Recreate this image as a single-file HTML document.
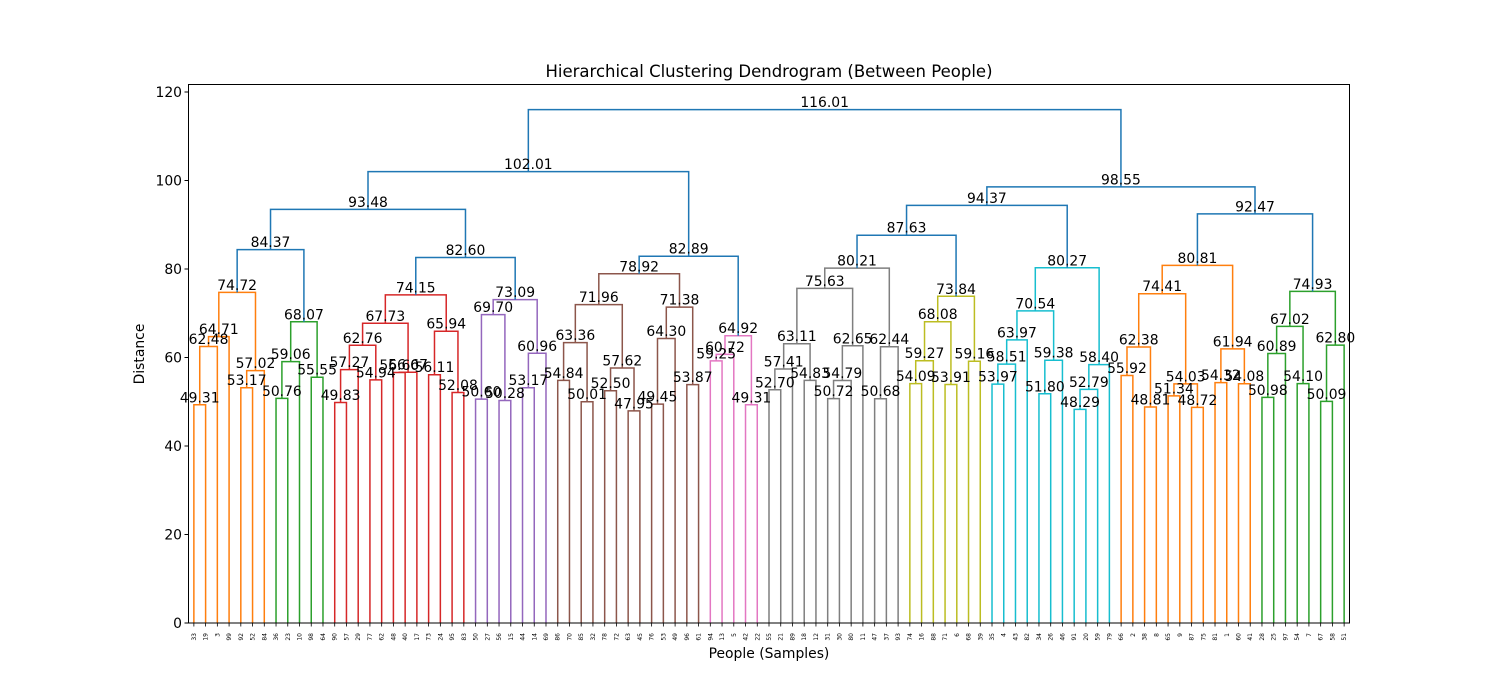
<!DOCTYPE html>
<html><head><meta charset="utf-8"><style>
html,body{margin:0;padding:0;background:#fff;}
svg{display:block;font-family:"DejaVu Sans","Liberation Sans",sans-serif;}
</style></head><body>
<svg id="chart" width="1500" height="700" viewBox="0 0 1500 700" xmlns="http://www.w3.org/2000/svg">
<rect width="1500" height="700" fill="#fff"/>
<text x="769" y="77" font-size="16.5" text-anchor="middle">Hierarchical Clustering Dendrogram (Between People)</text>
<text x="769" y="658" font-size="13.9" text-anchor="middle">People (Samples)</text>
<text x="0" y="0" font-size="13.9" text-anchor="middle" transform="translate(144,354) rotate(-90)">Distance</text>
<g id="plot"></g>
<rect x="188.5" y="84.5" width="1161" height="538.5" fill="none" stroke="#000" stroke-width="1"/>
</svg>
<script>
const leafLabels = ["33","19","3","99","92","52","84","36","23","10","98","64","90","57","29","77","62","48","40","17","73","24","95","83","50","27","56","15","44","14","69","86","70","85","32","78","72","63","45","76","53","49","96","61","94","13","5","42","22","55","21","89","18","12","31","30","80","11","47","37","93","74","16","88","71","6","68","39","35","4","43","82","34","26","46","91","20","59","79","66","2","38","8","65","9","87","75","81","1","60","41","28","25","97","54","7","67","58","51"];
const mergeLeft = ["L0","n0","n1","L4","n3","n2","L7","n6","L10","n7","n5","L12","n11","L15","n12","L17","n15","n14","L20","L22","n18","n17","L24","L26","n22","L28","n25","n24","n21","n10","L31","L33","n30","L35","L37","n33","n32","L39","n37","L42","n38","n36","L44","n42","L47","n43","n41","n29","L49","n48","L52","n49","L54","n52","n53","L58","n55","n51","n57","L61","n59","L64","n60","L66","n62","n58","L68","n66","n67","L72","n69","n68","L75","n72","n73","n71","n65","L79","L81","n77","L83","L85","n80","n79","L87","L89","n84","n83","L91","n88","L94","n89","L96","n92","n91","n87","n76","n47"];
const mergeRight = ["L1","L2","L3","L5","L6","n4","L8","L9","L11","n8","n9","L13","L14","L16","n13","L18","L19","n16","L21","L23","n19","n20","L25","L27","n23","L29","L30","n26","n27","n28","L32","L34","n31","L36","L38","n34","n35","L40","L41","L43","n39","n40","L45","L46","L48","n44","n45","n46","L50","L51","L53","n50","L55","L56","L57","L59","L60","n54","n56","L62","L63","L65","n61","L67","n63","n64","L69","L70","L71","L73","L74","n70","L76","L77","L78","n74","n75","L80","L82","n78","L84","L86","n81","n82","L88","L90","n85","n86","L92","L93","L95","n90","L97","L98","n93","n94","n95","n96"];
const mergeHeight = [49.31,62.48,64.71,53.17,57.02,74.72,50.76,59.06,55.55,68.07,84.37,49.83,57.27,54.94,62.76,56.60,56.67,67.73,56.11,52.08,65.94,74.15,50.60,50.28,69.70,53.17,60.96,73.09,82.60,93.48,54.84,50.01,63.36,52.50,47.95,57.62,71.96,49.45,64.30,53.87,71.38,78.92,59.25,60.72,49.31,64.92,82.89,102.01,52.70,57.41,54.83,63.11,50.72,54.79,62.65,50.68,62.44,75.63,80.21,54.09,59.27,53.91,68.08,59.16,73.84,87.63,53.97,58.51,63.97,51.80,59.38,70.54,48.29,52.79,58.40,80.27,94.37,55.92,48.81,62.38,51.34,48.72,54.03,74.41,54.32,54.08,61.94,80.81,50.98,60.89,54.10,67.02,50.09,62.80,74.93,92.47,98.55,116.01];
const yTicks = [0,20,40,60,80,100,120];
const colorThreshold = 81.5;
const palette = ["#ff7f0e","#2ca02c","#d62728","#9467bd","#8c564b","#e377c2","#7f7f7f","#bcbd22","#17becf"];
const aboveColor = "#1f77b4";

const NS = "http://www.w3.org/2000/svg";
const plot = document.getElementById('plot');
const X0 = 188, X1 = 1350, Y0 = 623, PX_PER_UNIT = 4.425;
const n = leafLabels.length;
function xScale(i){ return X0 + (10*i + 5) / (10*n) * (X1 - X0); }
function yScale(v){ return Y0 - v * PX_PER_UNIT; }
function mk(tag, attrs){ const e = document.createElementNS(NS, tag); for (const k in attrs) e.setAttribute(k, attrs[k]); return e; }

// node positions
const nodeX = {}, nodeH = {};
function pos(ref){
  if (ref[0] === 'L') return {x: xScale(+ref.slice(1)), h: 0};
  const k = +ref.slice(1);
  return {x: nodeX[k], h: nodeH[k]};
}
for (let k = 0; k < mergeHeight.length; k++){
  const a = pos(mergeLeft[k]), b = pos(mergeRight[k]);
  nodeX[k] = (a.x + b.x) / 2; nodeH[k] = mergeHeight[k];
}
// colors
const nodeColor = {};
let ci = 0;
function colorize(k, inherited){
  let c = inherited;
  if (c === null && mergeHeight[k] < colorThreshold){ c = palette[ci % palette.length]; ci++; }
  nodeColor[k] = c === null ? aboveColor : c;
  [mergeLeft[k], mergeRight[k]].forEach(r => { if (r[0] === 'n') colorize(+r.slice(1), c); });
}
colorize(mergeHeight.length - 1, null);

// y ticks
yTicks.forEach(t => {
  const y = yScale(t);
  const tk = mk('line', {x1: X0 - 3.5, x2: X0, y1: y, y2: y, stroke: '#000', 'stroke-width': 1});
  
  
  plot.appendChild(tk);
  const tl = mk('text', {x: X0 - 6, y: y + 5, 'font-size': 13.9, 'text-anchor': 'end'});
  tl.textContent = t;
  
  
  plot.appendChild(tl);
});
// leaf ticks and labels
leafLabels.forEach((lab, i) => {
  const x = xScale(i);
  const tk = mk('line', {x1: x, x2: x, y1: Y0, y2: Y0 + 3.5, stroke: '#000', 'stroke-width': 0.8});
  
  
  plot.appendChild(tk);
  const t = mk('text', {x: 0, y: 0, 'font-size': 6, 'text-anchor': 'end', transform: `translate(${x + 2},${Y0 + 10}) rotate(-90)`});
  t.textContent = lab;
  
  
  plot.appendChild(t);
});
// links
for (let k = 0; k < mergeHeight.length; k++){
  const a = pos(mergeLeft[k]), b = pos(mergeRight[k]);
  const yt = yScale(mergeHeight[k]);
  const p = mk('path', {d: `M${a.x},${yScale(a.h)} L${a.x},${yt} L${b.x},${yt} L${b.x},${yScale(b.h)}`, fill: 'none', stroke: nodeColor[k], 'stroke-width': 1.5});
  
  
  plot.appendChild(p);
}
for (let k = 0; k < mergeHeight.length; k++){
  const t = mk('text', {x: nodeX[k], y: yScale(mergeHeight[k]) - 2.5, 'font-size': 13.9, 'text-anchor': 'middle'});
  t.textContent = mergeHeight[k].toFixed(2);
  
  
  plot.appendChild(t);
}
</script>
</body></html>
